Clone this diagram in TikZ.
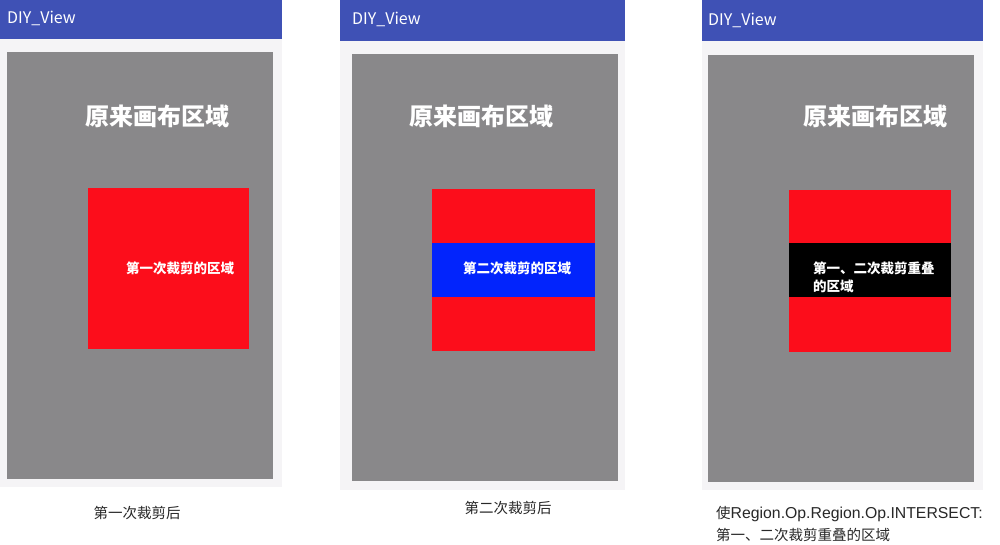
\documentclass[tikz,border=0pt]{standalone}
\usepackage{fontspec}
\setmainfont{Noto Sans CJK SC}
\newfontfamily\latinfont{Liberation Sans}
\usepackage{xcolor}
\usetikzlibrary{positioning}
\definecolor{barblue}{RGB}{63,81,181}
\definecolor{canvasgray}{RGB}{137,136,138}
\definecolor{clipred}{RGB}{252,13,27}
\definecolor{clipblue}{RGB}{2,36,252}
\definecolor{screenbg}{RGB}{245,244,246}
\definecolor{captext}{RGB}{40,40,40}
\tikzset{
  apptitle/.style={anchor=west,text=white,font=\fontsize{16}{18}\selectfont,inner sep=0pt},
  canvaslabel/.style={text=white,font=\fontsize{24}{26}\selectfont\bfseries,inner sep=0pt},
  cliplabel/.style={text=white,font=\fontsize{13.5}{18}\selectfont\bfseries,inner sep=0pt},
  caption/.style={text=captext,font=\fontsize{14.5}{22}\selectfont,inner sep=0pt}
}

\begin{document}
\begin{tikzpicture}[x=1pt,y=-1pt]
  \useasboundingbox[fill=white] (0,0) rectangle (1000,545);
  % first clip
  \fill[screenbg] (0,39) rectangle (282,487);
  \fill[barblue] (0,0) rectangle (282,39);
  \fill[canvasgray] (7,52) rectangle (273,479);
  \fill[clipred] (88,188) rectangle (249,349);
  \node[apptitle] (bar1) at (7,18) {DIY\_View};
  \node[canvaslabel] (canvas1) at (157,116) {原来画布区域};
  \node[cliplabel] (clip1) at (180,268) {第一次裁剪的区域};
  \node[caption] (cap1) at (137,513) {第一次裁剪后};
  % second clip
  \fill[screenbg] (340,41) rectangle (625,490);
  \fill[barblue] (340,0) rectangle (625,41);
  \fill[canvasgray] (352,54) rectangle (618,481);
  \fill[clipred] (432,189) rectangle (595,351);
  \fill[clipblue] (432,243) rectangle (595,297);
  \node[apptitle] (bar2) at (352,19) {DIY\_View};
  \node[canvaslabel] (canvas2) at (481,116) {原来画布区域};
  \node[cliplabel] (clip2) at (517,268) {第二次裁剪的区域};
  \node[caption] (cap2) at (508,508) {第二次裁剪后};
  % intersect
  \fill[screenbg] (702,41) rectangle (983,490);
  \fill[barblue] (702,0) rectangle (983,41);
  \fill[canvasgray] (708,55) rectangle (974,482);
  \fill[clipred] (789,190) rectangle (951,352);
  \fill[black] (789,243) rectangle (951,297);
  \node[apptitle] (bar3) at (708,20) {DIY\_View};
  \node[canvaslabel] (canvas3) at (875,116) {原来画布区域};
  \node[cliplabel,align=left,anchor=west] (clip3) at (813,277) {第一、二次裁剪重叠\\的区域};
  \node[caption,align=left,anchor=west] (cap3) at (716,524) {使{\latinfont\fontsize{15.8}{22}\selectfont Region.Op.Region.Op.INTERSECT:}\\第一、二次裁剪重叠的区域};
\end{tikzpicture}
\end{document}
